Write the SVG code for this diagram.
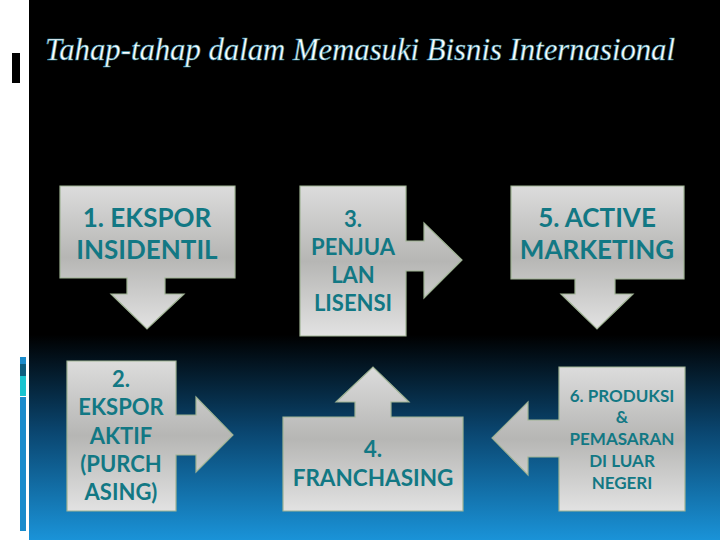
<svg xmlns="http://www.w3.org/2000/svg" width="720" height="540" viewBox="0 0 720 540">
<defs>
<linearGradient id="bg" x1="0" y1="0" x2="0" y2="540" gradientUnits="userSpaceOnUse">
<stop offset="0" stop-color="#000"/>
<stop offset="0.62" stop-color="#000"/>
<stop offset="0.8" stop-color="#0a4670"/>
<stop offset="1" stop-color="#1a93d8"/>
</linearGradient>
<linearGradient id="g" x1="0" y1="0" x2="0" y2="1">
<stop offset="0" stop-color="#dcdcdc"/>
<stop offset="0.5" stop-color="#b6b6b4"/>
<stop offset="1" stop-color="#e2e2e2"/>
</linearGradient>
<style>
.s{fill:url(#g);stroke:#9fb394;stroke-width:1.2}
.t{font-family:Lato,"Open Sans",sans-serif;font-weight:bold;fill:#127884;text-anchor:middle}
</style>
</defs>
<rect width="720" height="540" fill="#fff"/>
<rect x="29" y="0" width="691" height="540" fill="url(#bg)"/>
<rect x="12" y="53" width="8" height="30" fill="#000"/>
<rect x="20" y="357" width="6" height="7" fill="#1a8ccc"/>
<rect x="20" y="364" width="6" height="12" fill="#0b5e80"/>
<rect x="20" y="376" width="6" height="20" fill="#19c4d0"/>
<rect x="20" y="397" width="6" height="134" fill="#1a8ccc"/>
<text x="45" y="60" font-family="'Liberation Serif',serif" font-style="italic" font-size="32" fill="#fff" stroke="#3a90a8" stroke-width="0.6" textLength="630" lengthAdjust="spacingAndGlyphs">Tahap-tahap dalam Memasuki Bisnis Internasional</text>
<g id="n1">
<path class="s" d="M60,186 H235 V278 H165 V294 H184 L147,329 L111,294 H127 V278 H60 Z"/>
<text class="t" font-size="26" x="147" y="227">1. EKSPOR</text>
<text class="t" font-size="26" x="147" y="259">INSIDENTIL</text>
</g>
<g id="n3">
<path class="s" d="M300,186 H406 V241 H424 V223 L462,260 L424,298 V271 H406 V336 H300 Z"/>
<text class="t" font-size="22" x="353" y="227">3.</text>
<text class="t" font-size="22" x="353" y="255">PENJUA</text>
<text class="t" font-size="22" x="353" y="283">LAN</text>
<text class="t" font-size="22" x="353" y="311">LISENSI</text>
</g>
<g id="n5">
<path class="s" d="M511,186 H684 V279 H615 V294 H633 L597,329 L561,294 H575 V279 H511 Z"/>
<text class="t" font-size="26" x="597" y="227">5. ACTIVE</text>
<text class="t" font-size="26" x="597" y="259">MARKETING</text>
</g>
<g id="n2">
<path class="s" d="M67,361 H176 V415 H196 V397 L233,435 L196,472 V455 H176 V511 H67 Z"/>
<text class="t" font-size="22" x="121" y="387">2.</text>
<text class="t" font-size="22" x="121" y="415">EKSPOR</text>
<text class="t" font-size="22" x="121" y="444">AKTIF</text>
<text class="t" font-size="22" x="121" y="472">(PURCH</text>
<text class="t" font-size="22" x="121" y="500">ASING)</text>
</g>
<g id="n4">
<path class="s" d="M283,417 H355 V402 H336 L373,367 L409,402 H391 V417 H463 V511 H283 Z"/>
<text class="t" font-size="22.5" x="373" y="457">4.</text>
<text class="t" font-size="22.5" x="373" y="486">FRANCHASING</text>
</g>
<g id="n6">
<path class="s" d="M559,367 H685 V511 H559 V457 H528 V475 L492,438 L528,402 V420 H559 Z"/>
<text class="t" font-size="17" x="622" y="402">6. PRODUKSI</text>
<text class="t" font-size="17" x="622" y="423">&amp;</text>
<text class="t" font-size="17" x="622" y="445">PEMASARAN</text>
<text class="t" font-size="17" x="622" y="467">DI LUAR</text>
<text class="t" font-size="17" x="622" y="489">NEGERI</text>
</g>
<g id="connectors"></g>
</svg>
